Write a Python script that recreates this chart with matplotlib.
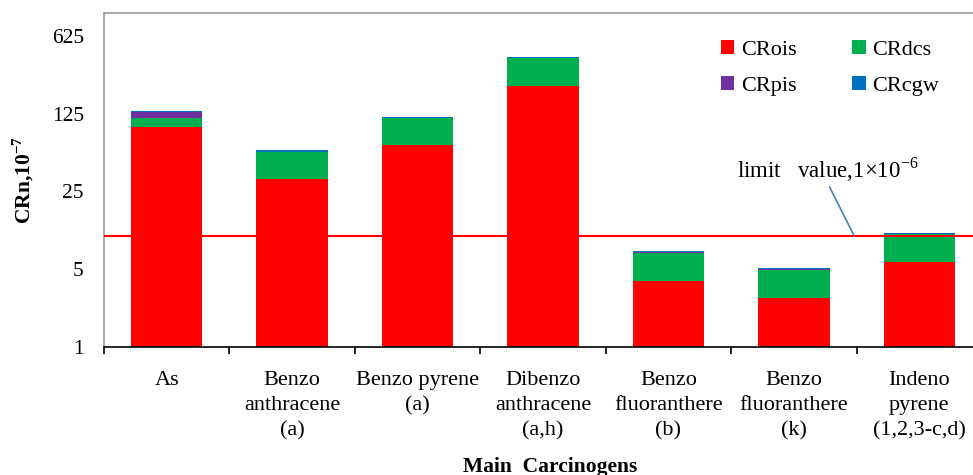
import matplotlib
matplotlib.use('Agg')
import matplotlib.pyplot as plt
import numpy as np
from matplotlib.ticker import FixedLocator, NullFormatter

# carcinogenic risk by exposure route, units of 1e-7
carcinogens = ['As', 'Benzo\nanthracene\n(a)', 'Benzo pyrene\n(a)', 'Dibenzo\nanthracene\n(a,h)',
               'Benzo\nfluoranthere\n(b)', 'Benzo\nfluoranthere\n(k)', 'Indeno\npyrene\n(1,2,3-c,d)']
cr_ois = [95.0, 32.0, 65.0, 223.0, 3.94, 2.78, 5.8]
cr_dcs = [20.0, 25.0, 48.0, 170.0, 3.0, 2.1, 4.6]
cr_pis = [15.0, 0.0, 0.0, 0.0, 0.25, 0.17, 0.0]
cr_cgw = [0.5, 2.0, 4.0, 9.0, 0.05, 0.05, 0.1]
limit_value = 10.0  # 1e-6 expressed in units of 1e-7
y_ticks = [1, 5, 25, 125, 625]

series = [('CRois', cr_ois, '#FF0000'),
          ('CRdcs', cr_dcs, '#00B050'),
          ('CRpis', cr_pis, '#7030A0'),
          ('CRcgw', cr_cgw, '#0070C0')]

plt.rcParams['font.family'] = ['Liberation Serif', 'DejaVu Serif']
plt.rcParams['mathtext.fontset'] = 'custom'
plt.rcParams['mathtext.rm'] = 'Liberation Serif'
plt.rcParams['mathtext.bf'] = 'Liberation Serif:bold'

fig = plt.figure(figsize=(9.73, 4.75), dpi=100)
ax = fig.add_axes([104 / 973, 1 - 347 / 475, 878 / 973, 334 / 475])

x = np.arange(len(carcinogens))
bottom = np.zeros(len(carcinogens))
handles = {}
for name, vals, col in series:
    vals = np.array(vals)
    b = ax.bar(x, vals, width=0.57, bottom=bottom, color=col, edgecolor='none', label=name, zorder=2)
    handles[name] = b
    bottom = bottom + vals

ax.set_yscale('log', base=5)
ax.set_ylim(1, 1000)
ax.set_xlim(-0.5, len(carcinogens) - 0.5)
ax.yaxis.set_major_locator(FixedLocator(y_ticks))
ax.yaxis.set_minor_locator(FixedLocator([]))
ax.set_yticklabels([str(t) for t in y_ticks])
ax.tick_params(axis='y', length=0, pad=14.5, labelsize=15.5)

ax.set_xticks(x)
ax.set_xticklabels(carcinogens, fontsize=16, linespacing=1.45)
ax.set_xticks(np.arange(len(carcinogens) + 1) - 0.5, minor=True)
ax.xaxis.set_minor_formatter(NullFormatter())
ax.tick_params(axis='x', which='major', length=0, pad=17)
ax.tick_params(axis='x', which='minor', length=5, width=1.2, direction='out', color='black')

for s in ['top', 'left']:
    ax.spines[s].set_color('#999999')
    ax.spines[s].set_linewidth(1.2)
ax.spines['right'].set_visible(False)
ax.spines['bottom'].set_color('black')
ax.spines['bottom'].set_linewidth(1.2)

# limit line
ax.axhline(limit_value, color='#FF0000', lw=1.5, zorder=3)
ax.annotate(r'limit   value,1$\times$10$^{-6}$', xy=(5.48, limit_value), xytext=(4.55, 39),
            fontsize=16.5, ha='left', va='center',
            arrowprops=dict(arrowstyle='-', color='#4A7EBB', lw=1.2, relpos=(0.5, 0),
                            shrinkA=0, shrinkB=0))

ax.set_ylabel(r'CRn,10$^{\mathbf{-7}}$', fontsize=15.5, fontweight='bold')
ax.yaxis.set_label_coords(-0.078, 0.5)
ax.set_xlabel('Main  Carcinogens', fontsize=15.5, fontweight='bold')
ax.xaxis.set_label_coords((550 - 104) / 878, -0.328)

order = ['CRois', 'CRpis', 'CRdcs', 'CRcgw']
leg = ax.legend([handles[n] for n in order], order, ncol=2, frameon=False, fontsize=16,
                loc='upper left', bbox_to_anchor=(721 / 973, 1 - 40 / 475),
                bbox_transform=fig.transFigure, borderpad=0, borderaxespad=0,
                handlelength=0.6, handleheight=0.6, handletextpad=0.3,
                columnspacing=2.5, labelspacing=0.72)

fig.savefig('out.png', dpi=100)
